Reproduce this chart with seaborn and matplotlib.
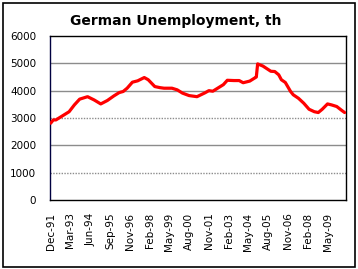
import matplotlib
matplotlib.use("Agg")
import matplotlib.pyplot as plt
import seaborn as sns
import pandas as pd
from matplotlib.patches import Rectangle

# Month index (0 = Dec-91) and unemployment (thousands)
month_idx = [0, 2, 4, 8, 14, 18, 22, 28, 33, 38, 43, 48, 52, 55, 58, 62, 66, 71, 74,
             79, 83, 86, 92, 96, 100, 105, 111, 117, 120, 123, 127, 131, 134, 139,
             143, 146, 151, 155, 156, 157, 161, 167, 170, 173, 175, 178, 182, 184,
             188, 192, 196, 200, 203, 206, 210, 213, 217, 221, 223]
unemployment = [2810, 2930, 2930, 3050, 3230, 3480, 3690, 3780, 3660, 3515, 3640,
                3810, 3930, 3970, 4090, 4310, 4360, 4480, 4400, 4150, 4110, 4090,
                4090, 4030, 3910, 3820, 3780, 3920, 4000, 3980, 4100, 4220, 4380,
                4370, 4370, 4290, 4350, 4470, 4500, 4980, 4900, 4710, 4700, 4580,
                4400, 4300, 3970, 3850, 3720, 3540, 3320, 3230, 3200, 3320, 3515,
                3480, 3420, 3270, 3200]
tick_idx = [0, 15, 30, 45, 60, 75, 90, 105, 120, 135, 150, 165, 180, 195, 210]
tick_labels = ["Dec-91", "Mar-93", "Jun-94", "Sep-95", "Nov-96", "Feb-98", "May-99",
               "Aug-00", "Nov-01", "Feb-03", "May-04", "Aug-05", "Nov-06", "Feb-08",
               "May-09"]
y_ticks = [0, 1000, 2000, 3000, 4000, 5000, 6000]
title = "German Unemployment, th"

sns.set_style("white")
plt.rcParams["font.family"] = ["DejaVu Sans"]
plt.rcParams["text.color"] = "black"
plt.rcParams["xtick.color"] = "black"
plt.rcParams["ytick.color"] = "black"

df = pd.DataFrame({"month": month_idx, "value": unemployment})

fig = plt.figure(figsize=(3.58, 2.69), dpi=100)
ax = fig.add_axes([50 / 358, 1 - 200 / 269, 295.7 / 358, 164 / 269])

# gridlines
for v in y_ticks[1:-1]:
    ls = (0, (1, 1)) if v in (1000, 3000) else "-"
    ax.axhline(v, color="#8c8c8c", lw=1.0, ls=ls, zorder=1)

sns.lineplot(data=df, x="month", y="value", color="#ff0000", lw=2.3, ax=ax,
             zorder=3, legend=False)

ax.set_xlim(-0.5, 223.8)
ax.set_ylim(0, 6000)
ax.set_xticks(tick_idx)
ax.set_xticklabels(tick_labels, rotation=90, fontsize=7.5, color="black")
ax.set_yticks(y_ticks)
ax.set_yticklabels([str(v) for v in y_ticks], fontsize=7.5, color="black")
ax.tick_params(axis="x", length=0, pad=9)
ax.tick_params(axis="y", length=0, pad=10)
ax.set_xlabel("")
ax.set_ylabel("")
for s in ax.spines.values():
    s.set_visible(True)
    s.set_color("black")
    s.set_linewidth(1.0)
ax.spines["left"].set_color("#000040")

fig.text(176 / 358, 1 - 21 / 269, title, ha="center", va="center",
         fontsize=10, fontweight="bold", color="black")

fig.patches.append(Rectangle((3 / 358, 2 / 269), 352 / 358, 264 / 269,
                             transform=fig.transFigure, fill=False,
                             edgecolor="black", lw=1.2))

fig.savefig("out.png", dpi=100, facecolor="white")
